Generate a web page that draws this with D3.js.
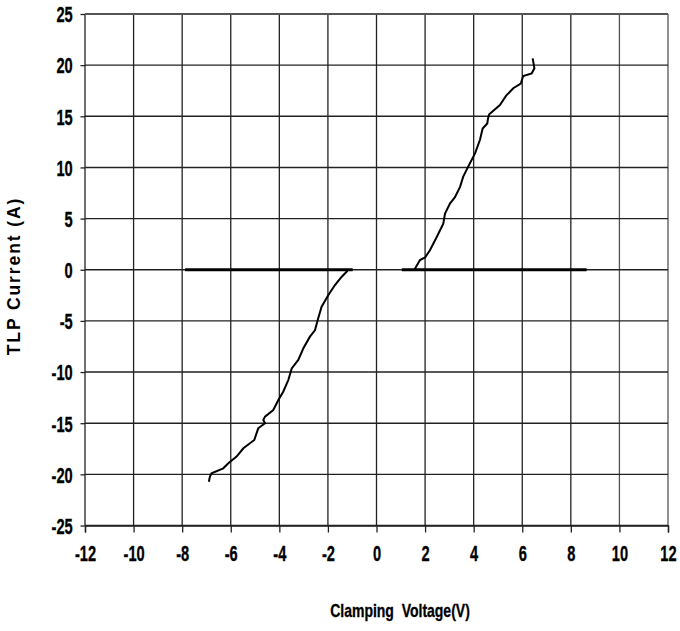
<!DOCTYPE html>
<html>
<head>
<meta charset="utf-8">
<script src="https://cdn.jsdelivr.net/npm/d3@7"></script>
<style>
  body { margin: 0; background: #fff; }
</style>
</head>
<body>
<div id="chart"></div>
<script>
// SVG dimensions
var w = 680;
var h = 631;
var margin = { top: 14, right: 12, bottom: 105.5, left: 85 };

// Narrow bold look: no Arial Narrow here, so squeeze Liberation Sans Bold
var labelFont = '"Liberation Sans", Arial, sans-serif';
var tickFontSize = 21.5;
var tickSqueeze = 0.68;

// Axis ticks
var xTicks = [-12, -10, -8, -6, -4, -2, 0, 2, 4, 6, 8, 10, 12];
var yTicks = [-25, -20, -15, -10, -5, 0, 5, 10, 15, 20, 25];

// TLP curve, positive pulse (voltage V, current A)
var posVoltage = [1.57, 1.63, 1.79, 2.0, 2.2, 2.48, 2.75, 2.82, 3.03, 3.23, 3.44, 3.57, 3.78, 4.06, 4.26, 4.37, 4.56, 4.59, 4.64, 5.08, 5.33, 5.63, 5.94, 6.04, 6.39, 6.5, 6.43];
var posCurrent = [0.05, 0.3, 0.95, 1.2, 1.9, 3.2, 4.5, 5.5, 6.5, 7.1, 8.1, 9.1, 10.1, 11.4, 12.7, 13.8, 14.3, 14.8, 15.2, 16.1, 17.0, 17.74, 18.2, 18.94, 19.2, 19.7, 20.67];

// TLP curve, negative pulse
var negVoltage = [-1.19, -1.43, -1.71, -1.98, -2.26, -2.42, -2.53, -2.74, -3.01, -3.22, -3.49, -3.63, -3.84, -4.04, -4.25, -4.59, -4.66, -4.59, -4.87, -5.03, -5.48, -5.76, -6.1, -6.31, -6.79, -6.86, -6.9];
var negCurrent = [-0.1, -0.68, -1.49, -2.47, -3.61, -4.91, -5.89, -6.54, -7.68, -8.82, -9.64, -10.78, -11.92, -12.73, -13.71, -14.36, -14.69, -15.01, -15.5, -16.64, -17.45, -18.27, -18.92, -19.41, -19.9, -20.23, -20.72];

// Leakage sweeps (current ~0)
var posLeakVoltage = [1.04, 8.65];
var posLeakCurrent = [0, 0];
var negLeakVoltage = [-7.88, -0.98];
var negLeakCurrent = [0, 0];

var svg = d3.select('#chart')
  .append('svg')
  .attr('width', w)
  .attr('height', h);

// Scales
var xScale = d3.scaleLinear()
  .domain([-12, 12])
  .range([margin.left, w - margin.right]);

var yScale = d3.scaleLinear()
  .domain([-25, 25])
  .range([h - margin.bottom, margin.top]);

// Gridlines
svg.append('g')
  .selectAll('line')
  .data(xTicks)
  .enter()
  .append('line')
  .attr('x1', d => xScale(d))
  .attr('x2', d => xScale(d))
  .attr('y1', yScale(25))
  .attr('y2', yScale(-25))
  .attr('stroke', d => (d === 12 || d === 10) ? '#555' : '#222')
  .attr('stroke-width', 1.3);

svg.append('g')
  .selectAll('line')
  .data(yTicks)
  .enter()
  .append('line')
  .attr('x1', xScale(-12))
  .attr('x2', xScale(12))
  .attr('y1', d => yScale(d))
  .attr('y2', d => yScale(d))
  .attr('stroke', d => d === 25 ? '#555' : '#222')
  .attr('stroke-width', d => d === 25 ? 2 : 1.4);

// Axes
var xAxis = d3.axisBottom(xScale)
  .tickValues(xTicks)
  .tickSize(7)
  .tickFormat(d => String(d));

var xAxisGroup = svg.append('g')
  .attr('transform', `translate(0, ${yScale(-25)})`)
  .call(xAxis);

var yAxis = d3.axisLeft(yScale)
  .tickValues(yTicks)
  .tickSize(4.5)
  .tickFormat(d => String(d));

var yAxisGroup = svg.append('g')
  .attr('transform', `translate(${xScale(-12)}, 0)`)
  .call(yAxis);

[xAxisGroup, yAxisGroup].forEach(g => {
  g.attr('font-family', labelFont).attr('font-size', tickFontSize).attr('font-weight', 'bold');
  g.select('.domain').attr('stroke', '#222').attr('stroke-width', 1.4);
  g.selectAll('.tick line').attr('stroke', '#222').attr('stroke-width', 1.3);
  // slight stroke to get the heavier look of the original
  g.selectAll('.tick text')
    .attr('fill', '#000')
    .attr('stroke', '#000')
    .attr('stroke-width', 0.35);
});
yAxisGroup.select('.domain').remove();

xAxisGroup.selectAll('.tick text')
  .attr('x', 0)
  .attr('y', 36)
  .attr('dy', 0)
  .attr('transform', `scale(${tickSqueeze}, 1)`);

yAxisGroup.selectAll('.tick text')
  .attr('x', -12.3 / tickSqueeze)
  .attr('y', 7.8)
  .attr('dy', 0)
  .attr('transform', `scale(${tickSqueeze}, 1)`);

// Curves
var line = d3.line()
  .x(d => xScale(d[0]))
  .y(d => yScale(d[1]));

var zipSeries = (vs, is) => vs.map((v, k) => [v, is[k]]);

svg.append('path')
  .datum(zipSeries(negLeakVoltage, negLeakCurrent))
  .attr('d', line)
  .attr('fill', 'none')
  .attr('stroke', '#000')
  .attr('stroke-width', 3);

svg.append('path')
  .datum(zipSeries(posLeakVoltage, posLeakCurrent))
  .attr('d', line)
  .attr('fill', 'none')
  .attr('stroke', '#000')
  .attr('stroke-width', 3);

svg.append('path')
  .datum(zipSeries(posVoltage, posCurrent))
  .attr('d', line)
  .attr('fill', 'none')
  .attr('stroke', '#000')
  .attr('stroke-width', 2);

svg.append('path')
  .datum(zipSeries(negVoltage, negCurrent))
  .attr('d', line)
  .attr('fill', 'none')
  .attr('stroke', '#000')
  .attr('stroke-width', 2);

// Axis labels
var xLabelSqueeze = 0.8;
svg.append('text')
  .attr('transform', `translate(400, 617) scale(${xLabelSqueeze}, 1)`)
  .attr('text-anchor', 'middle')
  .attr('font-family', labelFont)
  .attr('font-weight', 'bold')
  .attr('font-size', 17.5)
  .attr('stroke', '#000')
  .attr('stroke-width', 0.3)
  .style('white-space', 'pre')
  .text('Clamping  Voltage(V)');

svg.append('text')
  .attr('transform', 'translate(20, 276) rotate(-90)')
  .attr('text-anchor', 'middle')
  .attr('font-family', labelFont)
  .attr('font-weight', 'bold')
  .attr('font-size', 17.5)
  .attr('letter-spacing', 1.9)
  .text('TLP Current (A)');
</script>
</body>
</html>
